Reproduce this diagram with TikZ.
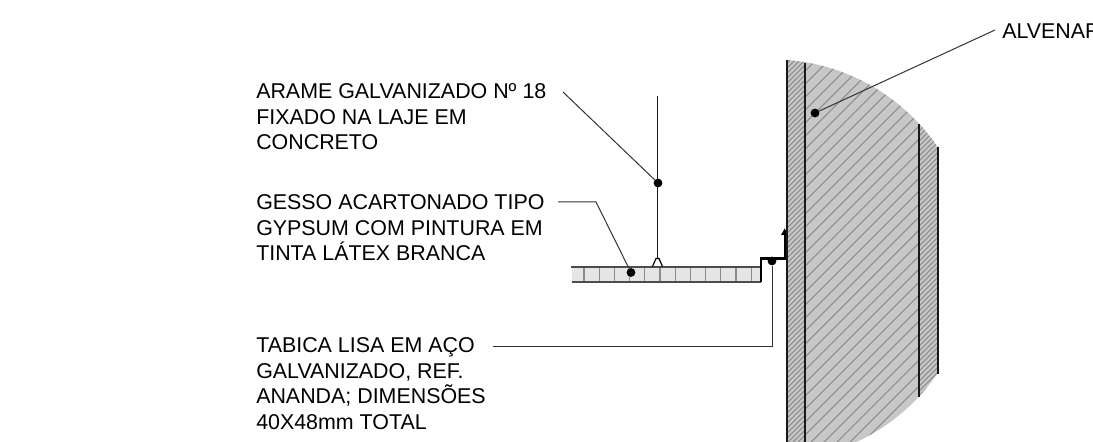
\documentclass[tikz,border=0pt]{standalone}
\usepackage{fontspec}
\setmainfont{Liberation Sans}
\tikzset{
  note/.style={anchor=north west, inner sep=0pt, align=left, font=\fontsize{16.05}{19.15}\selectfont},
  leader/.style={draw=black!80, line width=.75pt},
  heavy/.style={draw=black!90, line width=1.4pt},
  tip/.style={circle, fill=black, inner sep=0pt, minimum size=6.6pt},
  hatch/.style={draw=black!45, line width=.8pt}
}
\begin{document}
\begin{tikzpicture}[x=.75pt, y=-.75pt]
  \useasboundingbox (0,0) rectangle (1093,442);
  \clip (0,0) rectangle (1093,442);
  % alvenaria
  \begin{scope}
    \clip (787,60) arc[start angle=-85.7, end angle=90, radius=200.6] -- (787,442) -- cycle;
    \fill[black!22] (787,50) rectangle (938,442);
    \begin{scope}
      \clip (787,50) rectangle (805,442);
      \foreach \k in {780,785,...,1260} \draw[hatch] (\k,50) -- ++(-420,420);
    \end{scope}
    \begin{scope}
      \clip (805,50) rectangle (919,442);
      \foreach \k in {800,813,...,1320} \draw[hatch] (\k,50) -- ++(-420,420);
    \end{scope}
    \begin{scope}
      \clip (919,50) rectangle (938,442);
      \foreach \k in {920,925,...,1360} \draw[hatch] (\k,50) -- ++(-420,420);
    \end{scope}
  \end{scope}
  \draw[heavy] (787,60) -- (787,442);
  \draw[heavy] (805,63) -- (805,442);
  \draw[heavy] (919,124) -- (919,397);
  \draw[heavy] (938,147) -- (938,374);
  % gesso
  \fill[black!10] (572,267) rectangle (761,282);
  \foreach \k in {584,599.2,...,752} \draw[draw=black!45, line width=.9pt] (\k,267) -- (\k,282);
  \draw[draw=black!70, line width=1.1pt] (571,267) -- (761,267);
  \draw[draw=black!70, line width=1.1pt] (572,282) -- (761,282);
  % tabica
  \draw[draw=black, line width=1.6pt] (761,282) -- (761,258.5) -- (785,258.5) -- (785,230);
  \fill[black] (785,228) -- (781,235) -- (785,235) -- cycle;
  % arame
  \draw[heavy] (657.5,96) -- (657.5,258);
  \draw[draw=black, line width=.9pt] (652.5,266.5) -- (656,258.5) -- (659,258.5) -- (662.5,266.5);
  % textos
  \node[note] (arame) at (256,83.5) {ARAME GALVANIZADO Nº 18\\FIXADO NA LAJE EM\\CONCRETO};
  \node[note] (gesso) at (256,194.5) {GESSO ACARTONADO TIPO\\GYPSUM COM PINTURA EM\\TINTA LÁTEX BRANCA};
  \node[note] (tabica) at (256,337.5) {TABICA LISA EM AÇO\\GALVANIZADO, REF.\\ANANDA; DIMENSÕES\\40X48mm TOTAL};
  \node[note] (alvenaria) at (1002,23.5) {ALVENARIA};
  % pontos
  \node[tip] (dotarame) at (658,183) {};
  \node[tip] (dotgesso) at (631,272.5) {};
  \node[tip] (dottabica) at (772,261) {};
  \node[tip] (dotalvenaria) at (815,113) {};
  % chamadas
  \coordinate (startarame) at (563,92);
  \coordinate (startgesso) at (558,202);
  \coordinate (kneegesso) at (596,202);
  \coordinate (starttabica) at (493,346);
  \coordinate (kneetabica) at (772,346);
  \coordinate (startalvenaria) at (995,30);
  \draw[leader] (startarame) -- (dotarame);
  \draw[leader] (startgesso) -- (kneegesso) -- (dotgesso);
  \draw[leader] (starttabica) -- (kneetabica) -- (dottabica);
  \draw[leader] (startalvenaria) -- (dotalvenaria);
\end{tikzpicture}
\end{document}
